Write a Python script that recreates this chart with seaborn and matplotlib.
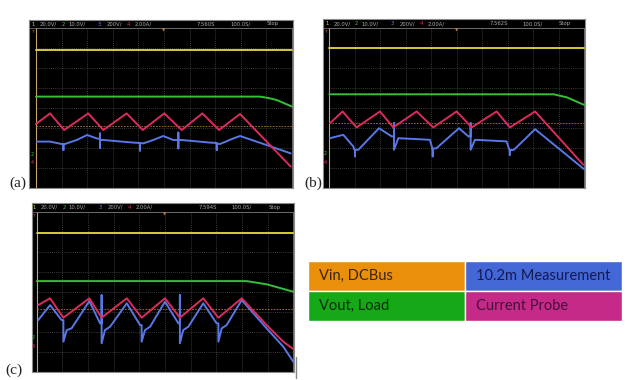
import matplotlib
matplotlib.use("Agg")
import matplotlib.pyplot as plt
import seaborn as sns
import pandas as pd
from matplotlib.patches import Rectangle

sns.set_theme(style="white")
plt.rcParams['font.family'] = ['DejaVu Sans']

# ---------------- data (scope screen units: x in divisions 0-10, y in divisions 0-8 from top) ----------------
# Panel (a)
a_time = "7.560S"
a_yellow_x = [0.0, 10.0]
a_yellow_y = [1.1, 1.1]
a_green_x = [0.0, 8.75, 9.08, 9.4, 10.0]
a_green_y = [3.43, 3.43, 3.5, 3.6, 3.93]
a_red_x = [0.0, 0.55, 1.1, 2.04, 2.63, 3.54, 4.17, 5.01, 5.69, 6.5, 7.15, 7.97, 9.95]
a_red_y = [4.8, 4.27, 5.1, 4.27, 5.1, 4.27, 5.1, 4.27, 5.1, 4.27, 5.1, 4.3, 6.93]
a_blue_x = [0.03, 0.55, 1.0, 1.07, 1.07, 1.07, 1.13, 1.59, 2.0, 2.37, 2.5, 2.5, 2.5, 2.5, 2.63, 3.8,
            4.06, 4.06, 4.06, 4.19, 4.58, 4.97, 5.36, 5.56, 5.56, 5.56, 5.56, 5.69, 6.8, 7.06, 7.06, 7.06,
            7.19, 7.71, 7.97, 9.14, 9.95]
a_blue_y = [5.68, 5.68, 5.8, 5.8, 6.1, 5.8, 5.8, 5.6, 5.35, 5.52, 5.55, 5.27, 6.0, 5.6, 5.6, 5.73,
            5.75, 6.13, 5.75, 5.77, 5.6, 5.4, 5.6, 5.6, 5.23, 6.02, 5.6, 5.6, 5.73, 5.75, 6.1, 5.78,
            5.8, 5.52, 5.4, 5.91, 6.27]
a_trig = 4.88

# Panel (b)
b_time = "7.562S"
b_yellow_x = [0.0, 10.0]
b_yellow_y = [1.02, 1.02]
b_green_x = [0.0, 8.8, 9.32, 10.0]
b_green_y = [3.32, 3.32, 3.47, 3.85]
b_red_x = [0.03, 0.52, 1.07, 1.99, 2.51, 3.43, 4.08, 5.0, 5.59, 6.57, 7.09, 8.08, 9.97]
b_red_y = [4.77, 4.18, 4.98, 4.18, 4.98, 4.18, 4.98, 4.18, 4.98, 4.18, 4.98, 4.18, 6.85]
b_blue_x = [0.03, 0.55, 0.94, 1.01, 1.01, 1.01, 1.14, 1.95, 2.45, 2.54, 2.54, 2.54, 2.71, 3.95,
            4.06, 4.06, 4.06, 4.21, 5.09, 5.46, 5.55, 5.55, 5.55, 5.72, 6.96, 7.09, 7.09, 7.09,
            7.25, 8.08, 10.0]
b_blue_y = [5.52, 5.35, 5.93, 6.18, 6.43, 6.1, 6.1, 5.02, 5.43, 5.43, 4.77, 6.1, 5.52, 5.6,
            6.1, 6.43, 6.05, 6.02, 5.02, 5.43, 5.43, 4.77, 6.1, 5.6, 5.68, 6.18, 6.35, 6.12,
            6.1, 5.07, 7.07]
b_trig = 4.77

# Panel (c)
c_time = "7.594S"
c_yellow_x = [0.0, 10.0]
c_yellow_y = [1.08, 1.08]
c_green_x = [0.0, 8.18, 8.96, 10.0]
c_green_y = [3.47, 3.47, 3.63, 4.0]
c_red_x = [0.06, 0.52, 1.04, 2.05, 2.53, 3.51, 4.09, 5.0, 5.58, 6.49, 7.08, 7.99, 8.96, 9.61, 10.0]
c_red_y = [4.67, 4.33, 5.3, 4.33, 5.3, 4.33, 5.3, 4.33, 5.3, 4.33, 5.3, 4.33, 5.67, 6.5, 6.87]
c_blue_x = [0.06, 0.52, 0.97, 1.04, 1.04, 1.17, 1.36, 2.05, 2.47, 2.53, 2.53, 2.53, 2.66, 2.86,
            3.51, 4.03, 4.09, 4.09, 4.22, 4.42, 5.0, 5.52, 5.58, 5.58, 5.58, 5.71, 5.91, 6.49,
            7.01, 7.08, 7.08, 7.21, 7.4, 7.99, 8.96, 9.61, 10.0]
c_blue_y = [5.42, 4.67, 5.42, 5.42, 6.5, 5.92, 5.83, 4.47, 5.58, 5.58, 4.17, 6.58, 5.92, 5.75,
            4.58, 5.67, 5.67, 6.5, 5.92, 5.75, 4.5, 5.58, 5.58, 4.17, 6.58, 5.92, 5.75, 4.58,
            5.58, 5.58, 6.5, 5.83, 5.67, 4.42, 5.83, 6.75, 7.5]
c_trig = 4.88

# header (shared)
header_labels = ["1", "20.0V/", "2", "10.0V/", "3", "200V/", "4", "2.00A/"]
header_extra = ["100.0S/", "Stop"]

# legend table
legend_labels = ["Vin, DCBus", "10.2m Measurement", "Vout, Load", "Current Probe"]
legend_colors = ["#e98f0c", "#4467d6", "#17a817", "#c62a88"]
legend_text_colors = ["#3b2608", "#121a55", "#0c2a0c", "#45103a"]

# ---------------- figure ----------------
W, H = 640, 380
fig = plt.figure(figsize=(6.4, 3.8), dpi=100)
fig.patch.set_facecolor("white")

YEL, GRN, RED, BLU = "#e4dc3c", "#36c036", "#dc2c5c", "#5878e6"
HDR_COL = ["#d8d040", "#aaaaaa", "#40c040", "#aaaaaa", "#6080f0", "#aaaaaa", "#e03060", "#aaaaaa"]
HDR_X = [-0.16, 0.16, 1.0, 1.25, 2.42, 2.77, 3.55, 3.87]


def scope(screen, grat, traces, time_txt, trig, letter, letter_pos):
    sl, st, sr, sb = screen
    gl, gt, gr, gb = grat
    px = (gr - gl) / 10.0
    py = (gb - gt) / 8.0
    ax = fig.add_axes([sl / W, 1 - sb / H, (sr - sl) / W, (sb - st) / H])
    ax.set_facecolor("black")
    ax.set_xlim((sl - gl) / px, (sr - gl) / px)
    ax.set_ylim((sb - gt) / py, (st - gt) / py)
    ax.set_xticks([]); ax.set_yticks([])
    for s in ax.spines.values():
        s.set_color("#8a8a8a"); s.set_linewidth(0.8)
    # graticule
    for i in range(1, 10):
        ax.plot([i, i], [0, 8], color="#4e4e4e", lw=0.6, ls=(0, (1, 1.5)), zorder=1)
    for j in range(1, 8):
        ax.plot([0, 10], [j, j], color="#4e4e4e", lw=0.6, ls=(0, (1, 1.5)), zorder=1)
    ax.plot([0, 10, 10], [0, 0, 8], color="#6a6a6a", lw=0.7, zorder=1)
    ax.plot([0, 0], [0, 8], color="#c8a070", lw=0.8, zorder=1)
    # trigger level line
    ax.plot([0, 10], [trig, trig], color="#b07830", lw=0.6, ls=(0, (2, 1.5)), zorder=1)
    # header
    hy = (st - gt) / py / 2.0
    for t, c, x in zip(header_labels, HDR_COL, HDR_X):
        ax.text(x, hy, t, color=c, fontsize=3.8, va="center", ha="left")
    ax.text(6.29, hy, time_txt, color="#aaaaaa", fontsize=3.8, va="center", ha="left")
    ax.text(7.58, hy, header_extra[0], color="#aaaaaa", fontsize=3.8, va="center", ha="left")
    ax.text(9.02, hy, header_extra[1], color="#aaaaaa", fontsize=3.8, va="center", ha="left")
    ax.plot([(sl - gl) / px, (sr - gl) / px], [0, 0], color="#6a6a6a", lw=0.6)
    ax.text(5.0, 0.02, "\u25bc", color="#d08030", fontsize=3, ha="center", va="top")
    ax.text(-0.15, 0.1, "T", color="#d08030", fontsize=3, ha="center", va="top")
    ax.text(-0.15, 6.3, "2", color="#40c040", fontsize=3.5, ha="center", va="center")
    ax.text(-0.15, 6.75, "4", color="#e03060", fontsize=3.5, ha="center", va="center")
    # traces
    for (xs, ys), col, lw in zip(traces, [YEL, GRN, BLU, RED], [1.3, 1.4, 1.4, 1.4]):
        df = pd.DataFrame({"x": xs, "y": ys})
        sns.lineplot(data=df, x="x", y="y", ax=ax, color=col, lw=lw, sort=False,
                     estimator=None, legend=False, zorder=3)
    ax.set_xlabel(""); ax.set_ylabel("")
    fig.text(letter_pos[0] / W, 1 - letter_pos[1] / H, letter, fontsize=11,
             family="Liberation Serif", ha="left", va="center", color="#222222")
    return ax


scope((29, 20, 293, 188), (36, 28, 292, 188),
      [(a_yellow_x, a_yellow_y), (a_green_x, a_green_y), (a_blue_x, a_blue_y), (a_red_x, a_red_y)],
      a_time, a_trig, "(a)", (9, 183))
scope((323, 19, 585, 188), (329.3, 28, 584, 187.7),
      [(b_yellow_x, b_yellow_y), (b_green_x, b_green_y), (b_blue_x, b_blue_y), (b_red_x, b_red_y)],
      b_time, b_trig, "(b)", (304, 183))
axc = scope((32, 203, 294, 372), (36.7, 211.7, 293.3, 371.7),
            [(c_yellow_x, c_yellow_y), (c_green_x, c_green_y), (c_blue_x, c_blue_y), (c_red_x, c_red_y)],
            c_time, c_trig, "(c)", (5, 370))
# small cursor artifact at bottom right of (c)
fig.add_artist(plt.Line2D([296 / W, 296 / W], [1 - 357 / H, 1 - 378 / H], color="#888888", lw=1.0))

# legend table
lax = fig.add_axes([308 / W, 1 - 321 / H, (622 - 308) / W, 60 / H])
lax.set_xlim(0, 2); lax.set_ylim(0, 2)
lax.axis("off")
cells = [(0, 1), (1, 1), (0, 0), (1, 0)]
for (cx, cy), lab, col, tc in zip(cells, legend_labels, legend_colors, legend_text_colors):
    lax.add_patch(Rectangle((cx, cy), 1, 1, facecolor=col, edgecolor="white", lw=1.0))
    lax.text(cx + 0.07, cy + 0.5, lab, color=tc, fontsize=10.5, family="Lato",
             ha="left", va="center")

fig.savefig("out.png", dpi=100, facecolor="white")
